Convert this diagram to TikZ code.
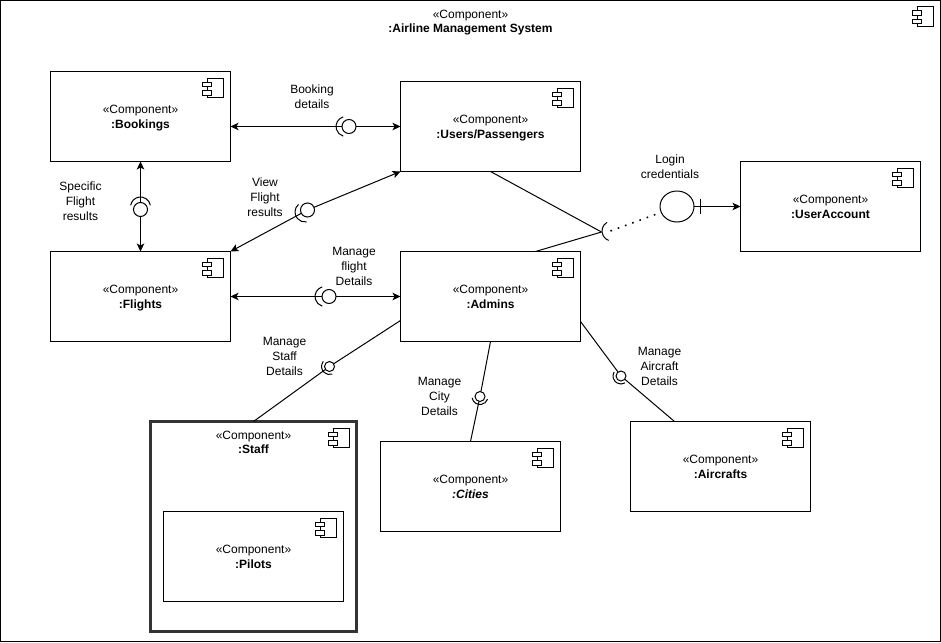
\documentclass[tikz,border=0pt]{standalone}
\usepackage{fontspec}
\setmainfont{Liberation Sans}
\usetikzlibrary{arrows.meta,shapes.geometric}
\tikzset{
  x=1pt,y=-1pt,
  every node/.style={font=\fontsize{12}{15}\selectfont,align=center,inner sep=0pt,outer sep=0pt},
  tight/.style={font=\fontsize{12}{14}\selectfont},
  comp/.style={draw=black,line width=1pt,rectangle,fill=white,minimum width=180pt,minimum height=90pt},
  heavy/.style={draw=black!80,line width=3pt,rectangle,fill=white,minimum width=206pt,minimum height=210pt},
  outerbox/.style={draw=black,line width=1pt,rectangle,fill=white,minimum width=940pt,minimum height=641pt},
  ball/.style={draw=black,line width=1pt,circle,fill=white,minimum size=14pt},
  smallball/.style={draw=black,line width=1pt,circle,fill=white,minimum size=10pt},
  bigball/.style={draw=black,line width=1pt,ellipse,fill=white,minimum width=34pt,minimum height=31pt},
  wire/.style={draw=black,line width=1pt},
  tip/.style={wire,-{Stealth[length=8pt,width=7.5pt,inset=2pt]}},
  socket/.style={draw=black,line width=1pt},
  dots/.style={draw=black,line width=1.6pt,dash pattern=on 1.6pt off 6.1pt},
  labeltext/.style={text=black}
}
\newcommand{\cmp}[1]{«Component»\\\raisebox{0pt}[\height][0pt]{\textbf{#1}}}
% icon at the top right corner of a named box
\newcommand{\compicon}[1]{%
  \draw[line width=1pt,fill=white] ([shift={(-23pt,-6.5pt)}]#1.north east) rectangle ([shift={(-7pt,-26pt)}]#1.north east);
  \draw[line width=1pt,fill=white] ([shift={(-28pt,-10.5pt)}]#1.north east) rectangle ([shift={(-19pt,-15pt)}]#1.north east);
  \draw[line width=1pt,fill=white] ([shift={(-28pt,-19pt)}]#1.north east) rectangle ([shift={(-19pt,-23.5pt)}]#1.north east);
}
% socket arc: centre, facing angle, half span, radius
\newcommand{\sockarc}[4]{%
  \draw[socket] ([shift={({#2-#3}:#4)}]#1) arc[start angle={#2-#3},end angle={#2+#3},radius=#4];
}
\begin{document}
\begin{tikzpicture}
\useasboundingbox (0,0) rectangle (941,642);
\begin{scope}[xshift=-.5pt,yshift=-.5pt]
\node[outerbox] (system) at (471,320.5) {};
\node[tight] (systemtext) at (471,21) {\cmp{:Airline Management System}};
\compicon{system}

\node[comp] (bookings) at (141,116) {\cmp{:Bookings}};
\node[comp] (users) at (491,126) {\cmp{:Users/Passengers}};
\node[comp] (flights) at (141,296) {\cmp{:Flights}};
\node[comp] (admins) at (491,296) {\cmp{:Admins}};
\node[comp] (useraccount) at (831,206) {\cmp{:UserAccount}};
\node[comp] (cities) at (471,486) {\cmp{\textit{:Cities}}};
\node[comp] (aircrafts) at (721,466) {\cmp{:Aircrafts}};
\node[heavy] (staff) at (254,526) {};
\node[tight] (stafftext) at (254,441.5) {\cmp{:Staff}};
\node[comp] (pilots) at (254,556) {\cmp{:Pilots}};
\foreach \b in {bookings,users,flights,admins,useraccount,cities,aircrafts,staff,pilots}{\compicon{\b}}

% interface balls
\node[ball] (bkball) at (349.5,126) {};
\node[ball] (sfball) at (141,209) {};
\node[ball] (vfball) at (308,209.5) {};
\node[ball] (mfball) at (329.5,296) {};
\node[smallball] (msball) at (330,366) {};
\node[smallball] (mcball) at (480.5,396) {};
\node[smallball] (maball) at (621.5,375.5) {};
\node[bigball] (loginball) at (677.5,206) {};

\coordinate (bksock) at (346.5,126);
\coordinate (sfsock) at (141,206.5);
\coordinate (vfsock) at (305.5,211.5);
\coordinate (mfsock) at (325.5,296);
\coordinate (mssock) at (330,366);
\coordinate (mcsock) at (480.5,396);
\coordinate (masock) at (621.5,375.5);
\coordinate (loginsock) at (612.5,230.5);
\coordinate (loginmeet) at (602,231.5);
\coordinate (loginend) at (611,230.5);
\coordinate (adminsnorth) at (536,251);
\coordinate (adminswest) at (401,320);
\coordinate (adminseast) at (581,321);
\coordinate (aircraftstop) at (675,421);
\coordinate (loginbartop) at (700.5,198);
\coordinate (loginbarbot) at (700.5,213.5);
\coordinate (bookingsright) at (231,126);
\coordinate (usersleft) at (401,126);
\coordinate (flightsright) at (231,296);
\coordinate (adminsleft) at (401,296);
\coordinate (accountleft) at (741,206);

% connectors
\draw[tip] (bkball) -- (usersleft);
\draw[tip] (bkball) -- (bookingsright);
\draw[tip] (sfball) -- (bookings.south);
\draw[tip] (sfball) -- (flights.north);
\draw[tip] (vfball) -- (users.south west);
\draw[tip] (vfball) -- (flights.north east);
\draw[tip] (mfball) -- (adminsleft);
\draw[tip] (mfball) -- (flightsright);
\draw[wire] (adminswest) -- (msball);
\draw[wire] (msball) -- (staff.north);
\draw[wire] (admins.south) -- (mcball);
\draw[wire] (mcball) -- (cities.north);
\draw[wire] (adminseast) -- (maball);
\draw[wire] (maball) -- (aircraftstop);
\draw[wire] (users.south) -- (loginmeet);
\draw[wire] (adminsnorth) -- (loginmeet);
\draw[dots] (loginend) -- (loginball);
\draw[tip] (loginball) -- (accountleft);
\draw[wire] (loginbartop) -- (loginbarbot);

% sockets
\sockarc{bksock}{180}{74}{10pt}
\sockarc{sfsock}{90}{80}{10pt}
\sockarc{vfsock}{205}{74}{10pt}
\sockarc{mfsock}{180}{74}{10pt}
\sockarc{mssock}{215}{75}{8pt}
\sockarc{mcsock}{265}{75}{8pt}
\sockarc{masock}{225}{75}{8pt}
\sockarc{loginsock}{185}{65}{10pt}

% labels
\node[labeltext] (bklabel) at (312.5,96.5) {Booking\\details};
\node[labeltext] (sflabel) at (81,200.5) {Specific\\Flight\\results};
\node[labeltext] (vflabel) at (265.5,196.5) {View\\Flight\\results};
\node[labeltext] (mflabel) at (354.5,265.5) {Manage\\flight\\Details};
\node[labeltext] (mslabel) at (285,355.5) {Manage\\Staff\\Details};
\node[labeltext] (mclabel) at (440,395.5) {Manage\\City\\Details};
\node[labeltext] (malabel) at (660,365.5) {Manage\\Aircraft\\Details};
\node[labeltext] (loginlabel) at (670.5,166.5) {Login\\credentials};
\end{scope}
\end{tikzpicture}
\end{document}
